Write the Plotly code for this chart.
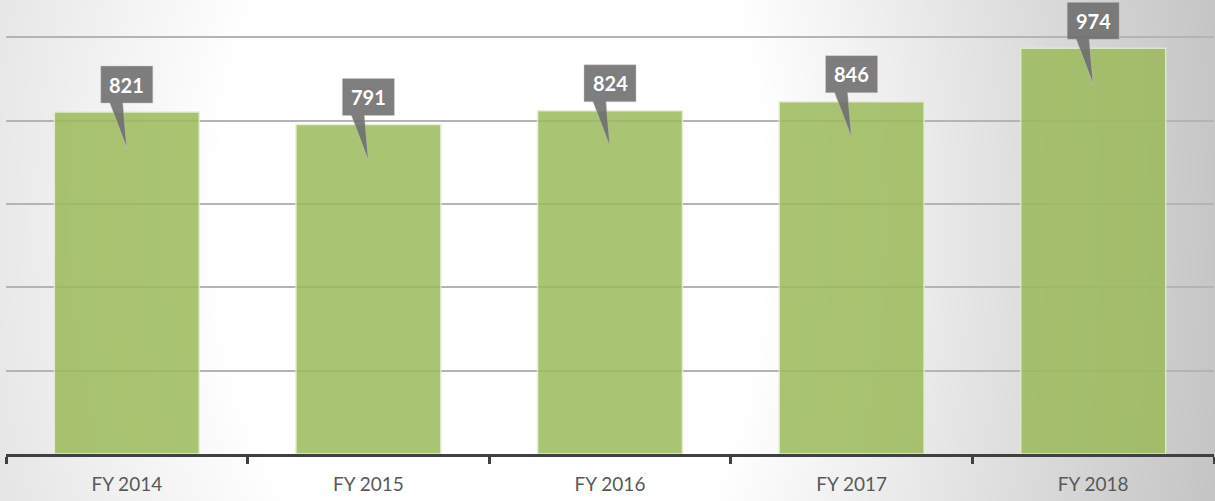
import zlib, struct, base64
import numpy as np
import plotly.graph_objects as go

# ---- data ----
categories = ["FY 2014", "FY 2015", "FY 2016", "FY 2017", "FY 2018"]
values = [821, 791, 824, 846, 974]
y_ticks = [0, 200, 400, 600, 800, 1000]

W, H = 1215, 501
ML, MR, MT, MB = 6, 1, 0, 47

# ---- radial-ish gray background, built as a PNG ----
def make_bg(w, h):
    xs = np.arange(w)[None, :].astype(float)
    ys = np.arange(h)[:, None].astype(float)
    cx, cy = 520.0, 220.0
    dx = xs - cx
    dx = np.where(dx < 0, dx * 0.85, dx * 1.05)
    dy = (ys - cy) * 0.6
    d = np.sqrt(dx ** 2 + dy ** 2)
    val = 255 - 0.12 * np.maximum(0, d - 260)
    val = np.clip(val, 185, 255).astype(np.uint8)
    raw = b"".join(b"\x00" + val[r].tobytes() for r in range(h))

    def chunk(t, dat):
        return (struct.pack(">I", len(dat)) + t + dat +
                struct.pack(">I", zlib.crc32(t + dat) & 0xffffffff))
    png = (b"\x89PNG\r\n\x1a\n" +
           chunk(b"IHDR", struct.pack(">IIBBBBB", w, h, 8, 0, 0, 0, 0)) +
           chunk(b"IDAT", zlib.compress(raw, 9)) +
           chunk(b"IEND", b""))
    return "data:image/png;base64," + base64.b64encode(png).decode()

bg = make_bg(W, H)
pw = W - ML - MR
ph = H - MT - MB

fig = go.Figure()
fig.add_trace(go.Bar(
    x=categories, y=values, width=0.6,
    marker=dict(color="rgb(155,186,90)", opacity=0.85,
                line=dict(color="rgba(225,238,205,0.95)", width=1.5)),
    hoverinfo="skip", showlegend=False,
))

shapes = []
annotations = []
for c, v in zip(categories, values):
    path = ("M -26,46 L 26,46 L 26,9 L -4,9 L 0,-36 L -17,9 L -26,9 Z")
    shapes.append(dict(
        type="path", xref="x", yref="y",
        xsizemode="pixel", ysizemode="pixel", xanchor=c, yanchor=v,
        path=path, fillcolor="rgba(108,108,108,0.88)",
        line=dict(width=0.8, color="rgba(200,200,200,0.6)"), layer="above",
    ))
    annotations.append(dict(
        x=c, y=v, xref="x", yref="y", yshift=27.5, showarrow=False,
        text="<b>%d</b>" % v, xanchor="center", yanchor="middle",
        font=dict(family="Lato", size=20, color="white"),
    ))

fig.update_layout(
    width=W, height=H,
    margin=dict(l=ML, r=MR, t=MT, b=MB, pad=0),
    paper_bgcolor="#d0d0d0",
    plot_bgcolor="rgba(0,0,0,0)",
    shapes=shapes, annotations=annotations,
    images=[dict(source=bg, xref="paper", yref="paper",
                 x=-ML / pw, y=1 + MT / ph, sizex=W / pw, sizey=H / ph,
                 xanchor="left", yanchor="top", sizing="stretch",
                 layer="below")],
    xaxis=dict(
        type="category", categoryorder="array", categoryarray=categories,
        range=[-0.5, len(categories) - 0.5],
        tickson="boundaries",
        ticks="outside", ticklen=7, tickwidth=3, tickcolor="#404040",
        showline=True, linecolor="#404040", linewidth=3,
        showgrid=False, zeroline=False, automargin=False,
        tickfont=dict(family="Lato", size=19, color="#595959"),
        ticklabelstandoff=11,
    ),
    yaxis=dict(
        range=[0, 1090], tickmode="array", tickvals=y_ticks,
        showticklabels=False, showgrid=True, gridcolor="#b4b4b4",
        gridwidth=1.5, zeroline=False, showline=False, automargin=False,
    ),
    bargap=0.4,
)

fig.write_html(
    "out.html",
    config={"displayModeBar": False},
    post_script="document.documentElement.style.margin='0';"
                "document.body.style.margin='0';"
                "document.body.style.overflow='hidden';",
)
